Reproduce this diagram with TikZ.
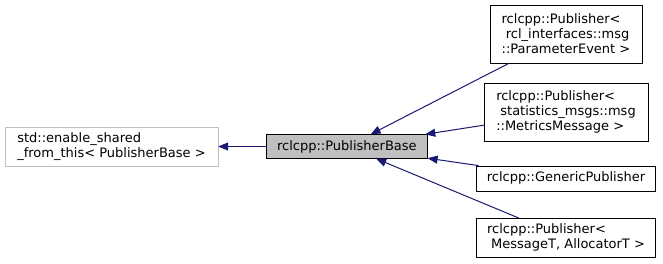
\documentclass[tikz,border=0pt]{standalone}
\usepackage{fontspec}
\setmainfont{DejaVu Sans}
\usepackage{tikz}
\usetikzlibrary{positioning,arrows.meta}
\definecolor{edgeblue}{HTML}{191970}
\definecolor{basegray}{HTML}{BFBFBF}

\begin{document}
\begin{tikzpicture}[x=1pt, y=1pt, node distance=20pt, every node/.style={font=\fontsize{13}{15}\selectfont, inner sep=2pt}]
\useasboundingbox (0,0) rectangle (663,-263);
\node[draw=basegray, align=left, minimum width=213pt, minimum height=39pt] (ext) at (111.5,-146.5) {std::enable\_shared\\\_from\_this< PublisherBase >};
\node[draw, fill=basegray, right=48pt of ext, minimum width=161pt, minimum height=24pt] (base) {rclcpp::PublisherBase};
\node[draw, align=left, minimum width=152pt, minimum height=58pt] (pe) at (566,-34) {rclcpp::Publisher<\\\ rcl\_interfaces::msg\\::ParameterEvent >};
\node[draw, align=left, below=20pt of pe, minimum width=164pt, minimum height=58pt] (mm) {rclcpp::Publisher<\\\ statistics\_msgs::msg\\::MetricsMessage >};
\node[draw, below=24pt of mm, minimum width=179pt, minimum height=25pt] (gen) {rclcpp::GenericPublisher};
\node[draw, align=left, below=27pt of gen, minimum width=179pt, minimum height=39pt] (msg) {rclcpp::Publisher<\\\ MessageT, AllocatorT >};
\draw[edgeblue, line width=1pt, -{Triangle[length=10pt, width=8pt]}] (base) -- (ext);
\draw[edgeblue, line width=1pt, -{Triangle[length=10pt, width=8pt]}] (pe) -- (base);
\draw[edgeblue, line width=1pt, -{Triangle[length=10pt, width=8pt]}] (mm) -- (base);
\draw[edgeblue, line width=1pt, -{Triangle[length=10pt, width=8pt]}] (gen) -- (base);
\draw[edgeblue, line width=1pt, -{Triangle[length=10pt, width=8pt]}] (msg) -- (base);
\end{tikzpicture}
\end{document}
